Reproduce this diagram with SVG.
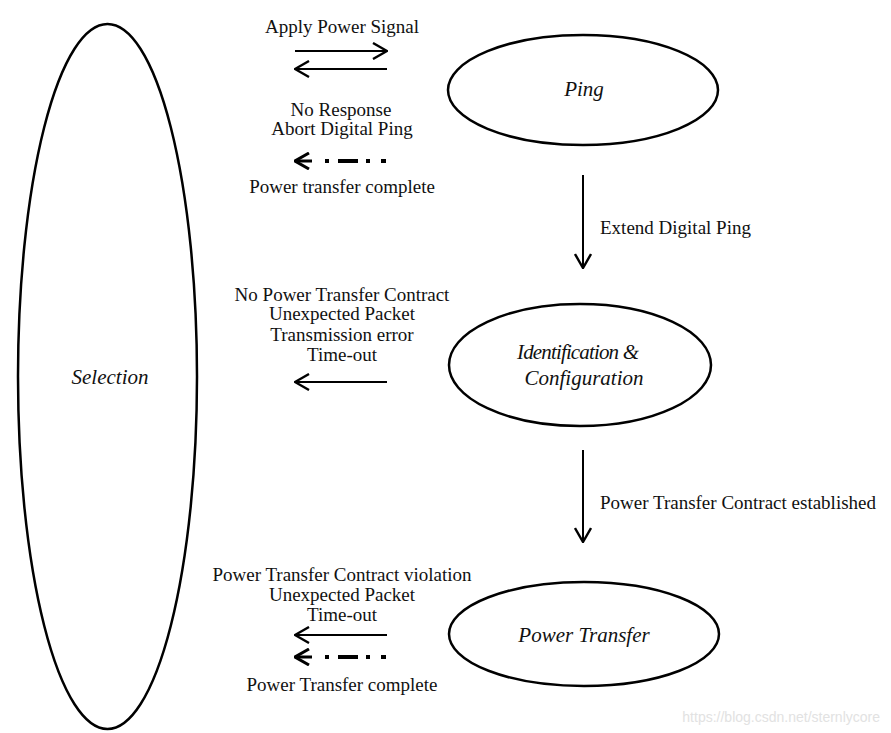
<svg xmlns="http://www.w3.org/2000/svg" width="891" height="733" viewBox="0 0 891 733">
<defs>
<marker id="arr" viewBox="0 0 16 18" refX="15" refY="9" markerWidth="16" markerHeight="18" markerUnits="userSpaceOnUse" orient="auto">
<path d="M1,1 L15,9 L1,17" fill="none" stroke="#000" stroke-width="2.4"/>
</marker>
<marker id="arrB" viewBox="0 0 16 18" refX="15" refY="9" markerWidth="16" markerHeight="18" markerUnits="userSpaceOnUse" orient="auto">
<path d="M1,1 L15,9 L1,17" fill="none" stroke="#000" stroke-width="3"/>
</marker>
</defs>
<style>
.node{fill:#fff;stroke:#000;stroke-width:2.5}
.lbl{font-family:"Liberation Serif",serif;font-size:19px;fill:#111}
.nl{font-family:"Liberation Serif",serif;font-size:21px;font-style:italic;fill:#111;text-anchor:middle}
.c{text-anchor:middle}
.ln{stroke:#000;stroke-width:2;fill:none}
.dd{stroke:#000;stroke-width:4;fill:none}
</style>
<rect width="891" height="733" fill="#fff"/>
<g id="selection">
<ellipse class="node" cx="107.5" cy="376.5" rx="89.5" ry="352.5"/>
<text class="nl" x="110" y="384">Selection</text>
</g>
<g id="ping">
<ellipse class="node" cx="583" cy="90" rx="135" ry="55"/>
<text class="nl" x="584" y="96">Ping</text>
</g>
<g id="identification">
<ellipse class="node" cx="580" cy="365" rx="131" ry="61"/>
<text class="nl" x="578" y="359" textLength="122" lengthAdjust="spacing">Identification &amp;</text>
<text class="nl" x="584" y="385">Configuration</text>
</g>
<g id="powertransfer">
<ellipse class="node" cx="584" cy="634" rx="135" ry="52"/>
<text class="nl" x="584" y="642">Power Transfer</text>
</g>
<g id="connectors">
<line class="ln" x1="295" y1="51" x2="387" y2="51" marker-end="url(#arr)"/>
<line class="ln" x1="387" y1="69" x2="295" y2="69" marker-end="url(#arr)"/>
<line x1="312" y1="161" x2="295" y2="161" stroke="#000" stroke-width="3" marker-end="url(#arrB)"/>
<path class="dd" d="M325,161 H329 M338,161 H358 M366,161 H370 M381,161 H386"/>
<line class="ln" x1="583" y1="175" x2="583" y2="268" marker-end="url(#arr)"/>
<line class="ln" x1="387" y1="382" x2="295" y2="382" marker-end="url(#arr)"/>
<line class="ln" x1="583" y1="450" x2="583" y2="542" marker-end="url(#arr)"/>
<line class="ln" x1="387" y1="635" x2="295" y2="635" marker-end="url(#arr)"/>
<line x1="312" y1="657" x2="295" y2="657" stroke="#000" stroke-width="3" marker-end="url(#arrB)"/>
<path class="dd" d="M325,657 H329 M338,657 H358 M366,657 H370 M381,657 H386"/>
</g>
<g id="labels">
<text class="lbl c" x="342" y="33">Apply Power Signal</text>
<text class="lbl c" x="341" y="116">No Response</text>
<text class="lbl c" x="342" y="135">Abort Digital Ping</text>
<text class="lbl c" x="342" y="193">Power transfer complete</text>
<text class="lbl" x="600" y="234">Extend Digital Ping</text>
<text class="lbl c" x="342" y="301">No Power Transfer Contract</text>
<text class="lbl c" x="342" y="320">Unexpected Packet</text>
<text class="lbl c" x="342" y="341">Transmission error</text>
<text class="lbl c" x="342" y="361">Time-out</text>
<text class="lbl" x="600" y="509">Power Transfer Contract established</text>
<text class="lbl c" x="342" y="581">Power Transfer Contract violation</text>
<text class="lbl c" x="342" y="601">Unexpected Packet</text>
<text class="lbl c" x="342" y="621">Time-out</text>
<text class="lbl c" x="342" y="691">Power Transfer complete</text>
</g>
<text x="880" y="722" text-anchor="end" font-family="Liberation Sans, sans-serif" font-size="14" fill="#e2e2e2">https://blog.csdn.net/sternlycore</text>
</svg>
